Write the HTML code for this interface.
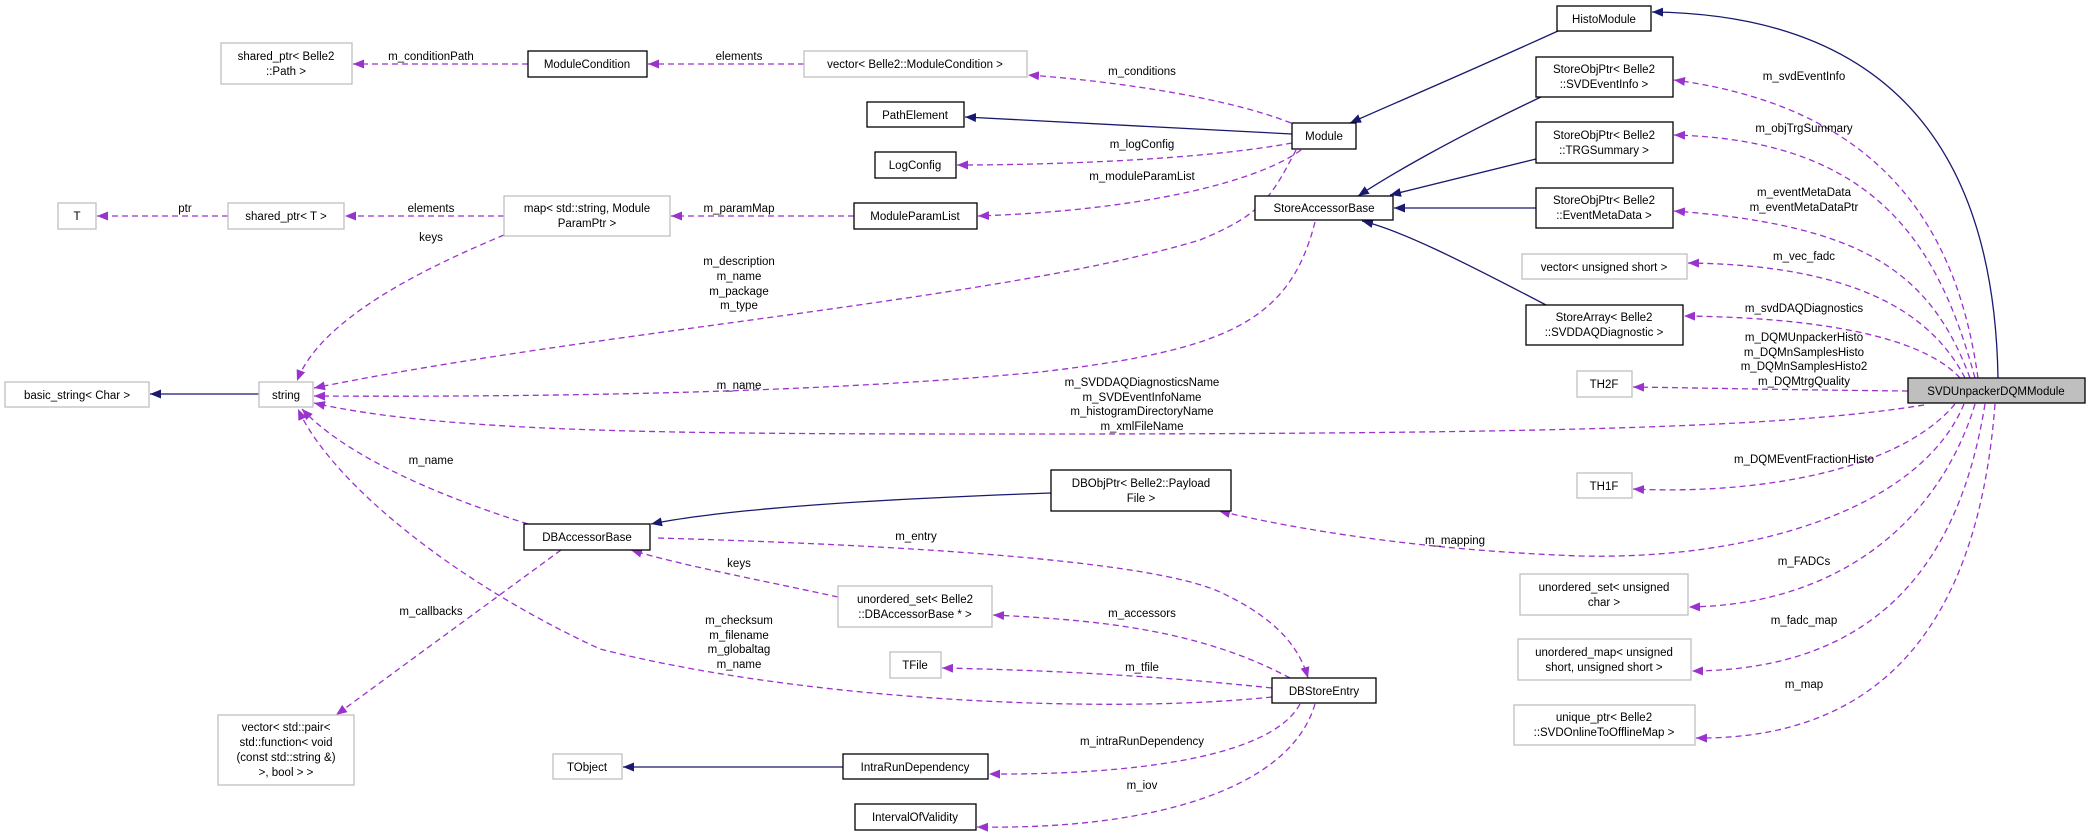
<!DOCTYPE html>
<html><head><meta charset="utf-8"><style>
html,body{margin:0;padding:0;background:#fff;}
svg{display:block;}
text{font-family:"Liberation Sans",Arial,sans-serif;font-size:11.5px;fill:#000;}
.n{fill:#fff;stroke:#000;stroke-width:1.3;}
.g{fill:#fff;stroke:#bfbfbf;stroke-width:1.3;}
.i{fill:none;stroke:#191970;stroke-width:1.3;}
.d{fill:none;stroke:#9a32cd;stroke-width:1.3;stroke-dasharray:6,4;}
</style></head><body>
<svg width="2093" height="836" viewBox="0 0 2093 836" xmlns="http://www.w3.org/2000/svg">
<defs>
<marker id="ai" markerUnits="userSpaceOnUse" markerWidth="12" markerHeight="9" refX="11" refY="4.5" orient="auto"><path d="M0,0 L11,4.5 L0,9 z" fill="#191970"/></marker>
<marker id="ad" markerUnits="userSpaceOnUse" markerWidth="12" markerHeight="9" refX="11" refY="4.5" orient="auto"><path d="M0,0 L11,4.5 L0,9 z" fill="#9a32cd"/></marker>
</defs>

<!-- inheritance edges -->
<g class="i">
<path d="M1998,378 C1995,200 1930,15 1652,12" marker-end="url(#ai)"/>
<path d="M1558,31 C1450,80 1390,105 1350,123" marker-end="url(#ai)"/>
<path d="M1292,134 L965,117" marker-end="url(#ai)"/>
<path d="M1541,97 C1450,140 1390,175 1358,196" marker-end="url(#ai)"/>
<path d="M1536,159 L1390,195" marker-end="url(#ai)"/>
<path d="M1536,208 L1394,208" marker-end="url(#ai)"/>
<path d="M1546,305 C1460,260 1400,230 1362,221" marker-end="url(#ai)"/>
<path d="M259,394 L150,394" marker-end="url(#ai)"/>
<path d="M1051,493 C850,500 720,510 651,524" marker-end="url(#ai)"/>
<path d="M843,767 L623,767" marker-end="url(#ai)"/>
</g>

<!-- dashed edges -->
<g class="d">
<path d="M528,64 L353,64" marker-end="url(#ad)"/>
<path d="M804,64 L648,64" marker-end="url(#ad)"/>
<path d="M1291,123 C1220,95 1100,80 1028,75" marker-end="url(#ad)"/>
<path d="M1292,143 C1200,160 1050,165 957,165" marker-end="url(#ad)"/>
<path d="M1301,150 C1260,180 1150,210 978,216" marker-end="url(#ad)"/>
<path d="M854,216 L671,216" marker-end="url(#ad)"/>
<path d="M504,216 L345,216" marker-end="url(#ad)"/>
<path d="M228,216 L97,216" marker-end="url(#ad)"/>
<path d="M504,235 C420,270 320,320 297,381" marker-end="url(#ad)"/>
<path d="M1296,150 C1270,200 1260,215 1200,240 C1000,300 600,330 314,388" marker-end="url(#ad)"/>
<path d="M1315,222 C1290,320 1230,350 1040,372 C800,395 500,397 314,396" marker-end="url(#ad)"/>
<path d="M1924,405 C1800,425 1600,434 1040,434 C700,434 450,434 314,403" marker-end="url(#ad)"/>
<path d="M528,524 C420,490 340,450 302,409" marker-end="url(#ad)"/>
<path d="M1272,697 C1100,715 800,700 600,649 C450,580 330,480 298,409" marker-end="url(#ad)"/>
<path d="M561,550 L336,715" marker-end="url(#ad)"/>
<path d="M658,538 C900,545 1150,560 1220,592 C1280,620 1300,650 1308,678" marker-end="url(#ad)"/>
<path d="M838,597 C760,580 680,565 631,550" marker-end="url(#ad)"/>
<path d="M1290,678 C1200,630 1100,620 993,615" marker-end="url(#ad)"/>
<path d="M1272,688 C1150,675 1040,670 942,668" marker-end="url(#ad)"/>
<path d="M1300,704 C1270,760 1120,775 989,774" marker-end="url(#ad)"/>
<path d="M1315,704 C1290,790 1150,830 977,827" marker-end="url(#ad)"/>
<path d="M1964,404 C1920,510 1750,560 1580,556 C1420,550 1300,530 1219,511" marker-end="url(#ad)"/>
<path d="M1978,378 C1960,250 1900,110 1674,80" marker-end="url(#ad)"/>
<path d="M1975,378 C1940,250 1880,140 1674,135" marker-end="url(#ad)"/>
<path d="M1970,378 C1930,270 1860,225 1674,211" marker-end="url(#ad)"/>
<path d="M1965,378 C1930,310 1850,265 1688,263" marker-end="url(#ad)"/>
<path d="M1960,378 C1930,345 1850,318 1684,316" marker-end="url(#ad)"/>
<path d="M1908,391 C1800,390 1700,388 1633,387" marker-end="url(#ad)"/>
<path d="M1955,404 C1900,470 1760,495 1633,489" marker-end="url(#ad)"/>
<path d="M1975,404 C1940,520 1840,605 1689,607" marker-end="url(#ad)"/>
<path d="M1985,404 C1960,560 1880,670 1692,671" marker-end="url(#ad)"/>
<path d="M1995,404 C1980,600 1900,740 1696,738" marker-end="url(#ad)"/>
</g>

<!-- nodes -->
<rect class="g" x="221" y="43" width="131" height="41"/><text x="286" y="60" text-anchor="middle">shared_ptr&lt; Belle2</text><text x="286" y="75" text-anchor="middle">::Path &gt;</text>
<rect class="n" x="528" y="51" width="119" height="26"/><text x="587" y="68" text-anchor="middle">ModuleCondition</text>
<rect class="g" x="804" y="51" width="223" height="26"/><text x="915" y="68" text-anchor="middle">vector&lt; Belle2::ModuleCondition &gt;</text>
<rect class="n" x="867" y="102" width="97" height="25"/><text x="915" y="119" text-anchor="middle">PathElement</text>
<rect class="n" x="875" y="152" width="81" height="26"/><text x="915" y="169" text-anchor="middle">LogConfig</text>
<rect class="g" x="58" y="203" width="38" height="26"/><text x="77" y="220" text-anchor="middle">T</text>
<rect class="g" x="228" y="203" width="116" height="26"/><text x="286" y="220" text-anchor="middle">shared_ptr&lt; T &gt;</text>
<rect class="g" x="504" y="196" width="166" height="40"/><text x="587" y="212" text-anchor="middle">map&lt; std::string, Module</text><text x="587" y="227" text-anchor="middle">ParamPtr &gt;</text>
<rect class="n" x="854" y="203" width="123" height="26"/><text x="915" y="220" text-anchor="middle">ModuleParamList</text>
<rect class="g" x="5" y="382" width="144" height="25"/><text x="77" y="399" text-anchor="middle">basic_string&lt; Char &gt;</text>
<rect class="g" x="259" y="382" width="54" height="25"/><text x="286" y="399" text-anchor="middle">string</text>
<rect class="n" x="1557" y="6" width="94" height="25"/><text x="1604" y="23" text-anchor="middle">HistoModule</text>
<rect class="n" x="1292" y="123" width="64" height="26"/><text x="1324" y="140" text-anchor="middle">Module</text>
<rect class="n" x="1255" y="196" width="138" height="24"/><text x="1324" y="212" text-anchor="middle">StoreAccessorBase</text>
<rect class="n" x="1536" y="57" width="137" height="40"/><text x="1604" y="73" text-anchor="middle">StoreObjPtr&lt; Belle2</text><text x="1604" y="88" text-anchor="middle">::SVDEventInfo &gt;</text>
<rect class="n" x="1536" y="122" width="137" height="41"/><text x="1604" y="139" text-anchor="middle">StoreObjPtr&lt; Belle2</text><text x="1604" y="154" text-anchor="middle">::TRGSummary &gt;</text>
<rect class="n" x="1536" y="188" width="137" height="40"/><text x="1604" y="204" text-anchor="middle">StoreObjPtr&lt; Belle2</text><text x="1604" y="219" text-anchor="middle">::EventMetaData &gt;</text>
<rect class="g" x="1522" y="254" width="165" height="25"/><text x="1604" y="271" text-anchor="middle">vector&lt; unsigned short &gt;</text>
<rect class="n" x="1526" y="305" width="157" height="40"/><text x="1604" y="321" text-anchor="middle">StoreArray&lt; Belle2</text><text x="1604" y="336" text-anchor="middle">::SVDDAQDiagnostic &gt;</text>
<rect class="g" x="1577" y="371" width="55" height="26"/><text x="1604" y="388" text-anchor="middle">TH2F</text>
<rect x="1908" y="378" width="177" height="25" fill="#bfbfbf" stroke="#000" stroke-width="1.3"/><text x="1996" y="395" text-anchor="middle">SVDUnpackerDQMModule</text>
<rect class="n" x="524" y="524" width="126" height="26"/><text x="587" y="541" text-anchor="middle">DBAccessorBase</text>
<rect class="g" x="838" y="586" width="154" height="41"/><text x="915" y="603" text-anchor="middle">unordered_set&lt; Belle2</text><text x="915" y="618" text-anchor="middle">::DBAccessorBase * &gt;</text>
<rect class="g" x="890" y="652" width="51" height="26"/><text x="915" y="669" text-anchor="middle">TFile</text>
<rect class="g" x="218" y="715" width="136" height="70"/><text x="286" y="731" text-anchor="middle">vector&lt; std::pair&lt;</text><text x="286" y="746" text-anchor="middle">std::function&lt; void</text><text x="286" y="761" text-anchor="middle">(const std::string &amp;)</text><text x="286" y="776" text-anchor="middle">&gt;, bool &gt; &gt;</text>
<rect class="g" x="553" y="754" width="69" height="25"/><text x="587" y="771" text-anchor="middle">TObject</text>
<rect class="n" x="843" y="754" width="145" height="25"/><text x="915" y="771" text-anchor="middle">IntraRunDependency</text>
<rect class="n" x="855" y="804" width="121" height="26"/><text x="915" y="821" text-anchor="middle">IntervalOfValidity</text>
<rect class="n" x="1051" y="470" width="180" height="41"/><text x="1141" y="487" text-anchor="middle">DBObjPtr&lt; Belle2::Payload</text><text x="1141" y="502" text-anchor="middle">File &gt;</text>
<rect class="g" x="1577" y="473" width="55" height="25"/><text x="1604" y="490" text-anchor="middle">TH1F</text>
<rect class="g" x="1520" y="574" width="168" height="41"/><text x="1604" y="591" text-anchor="middle">unordered_set&lt; unsigned</text><text x="1604" y="606" text-anchor="middle">char &gt;</text>
<rect class="g" x="1518" y="639" width="173" height="41"/><text x="1604" y="656" text-anchor="middle">unordered_map&lt; unsigned</text><text x="1604" y="671" text-anchor="middle">short, unsigned short &gt;</text>
<rect class="g" x="1514" y="705" width="181" height="40"/><text x="1604" y="721" text-anchor="middle">unique_ptr&lt; Belle2</text><text x="1604" y="736" text-anchor="middle">::SVDOnlineToOfflineMap &gt;</text>
<rect class="n" x="1272" y="678" width="104" height="25"/><text x="1324" y="695" text-anchor="middle">DBStoreEntry</text>

<!-- edge labels -->
<g text-anchor="middle">
<text x="431" y="60">m_conditionPath</text>
<text x="739" y="60">elements</text>
<text x="185" y="212">ptr</text>
<text x="431" y="212">elements</text>
<text x="739" y="212">m_paramMap</text>
<text x="431" y="241">keys</text>
<text x="739" y="265">m_description</text>
<text x="739" y="280">m_name</text>
<text x="739" y="295">m_package</text>
<text x="739" y="309">m_type</text>
<text x="739" y="389">m_name</text>
<text x="1142" y="75">m_conditions</text>
<text x="1142" y="148">m_logConfig</text>
<text x="1142" y="180">m_moduleParamList</text>
<text x="1804" y="80">m_svdEventInfo</text>
<text x="1804" y="132">m_objTrgSummary</text>
<text x="1804" y="196">m_eventMetaData</text>
<text x="1804" y="211">m_eventMetaDataPtr</text>
<text x="1804" y="260">m_vec_fadc</text>
<text x="1804" y="312">m_svdDAQDiagnostics</text>
<text x="1804" y="341">m_DQMUnpackerHisto</text>
<text x="1804" y="356">m_DQMnSamplesHisto</text>
<text x="1804" y="370">m_DQMnSamplesHisto2</text>
<text x="1804" y="385">m_DQMtrgQuality</text>
<text x="1142" y="386">m_SVDDAQDiagnosticsName</text>
<text x="1142" y="401">m_SVDEventInfoName</text>
<text x="1142" y="415">m_histogramDirectoryName</text>
<text x="1142" y="430">m_xmlFileName</text>
<text x="431" y="464">m_name</text>
<text x="431" y="615">m_callbacks</text>
<text x="739" y="567">keys</text>
<text x="739" y="624">m_checksum</text>
<text x="739" y="639">m_filename</text>
<text x="739" y="653">m_globaltag</text>
<text x="739" y="668">m_name</text>
<text x="916" y="540">m_entry</text>
<text x="1804" y="463">m_DQMEventFractionHisto</text>
<text x="1455" y="544">m_mapping</text>
<text x="1804" y="565">m_FADCs</text>
<text x="1804" y="624">m_fadc_map</text>
<text x="1804" y="688">m_map</text>
<text x="1142" y="617">m_accessors</text>
<text x="1142" y="671">m_tfile</text>
<text x="1142" y="745">m_intraRunDependency</text>
<text x="1142" y="789">m_iov</text>
</g>
</svg>
</body></html>
